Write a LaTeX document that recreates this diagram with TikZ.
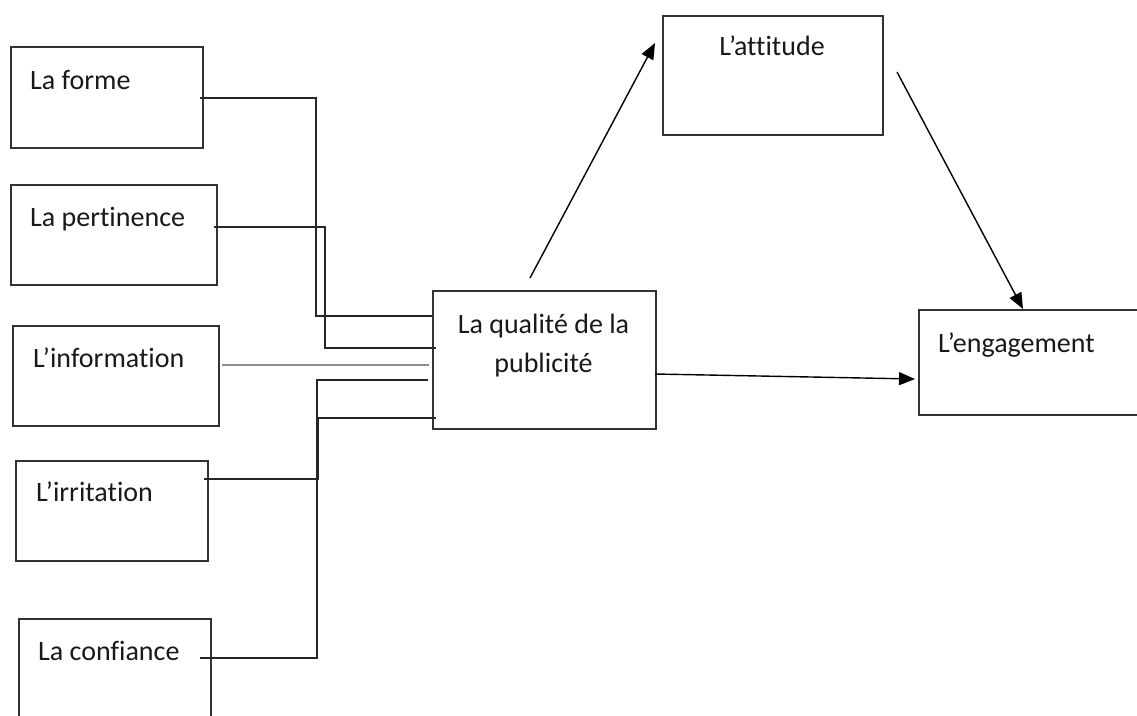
\documentclass[tikz,border=0pt]{standalone}
\usepackage{fontspec}
\setmainfont{Carlito}[Ligatures={NoCommon}]
\usetikzlibrary{arrows.meta}
\begin{document}
\begin{tikzpicture}[x=1pt,y=-1pt,
  box/.style={draw=black!80, line width=1.5pt, inner sep=0pt, anchor=north west},
  lbl/.style={inner sep=0pt, font=\fontsize{28}{39}\selectfont, text=black!90},
  wire/.style={draw=black!85, line width=1.5pt},
  grey wire/.style={draw=black!45, line width=1.7pt},
  arr/.style={draw=black, line width=1.4pt, -{Triangle[length=16pt,width=13pt]}}]
\clip (0,0) rectangle (1137,715);
\fill[white] (0,0) rectangle (1137,715);
% boxes
\node[box, minimum width=192pt, minimum height=101pt] (forme) at (10,46) {};
\node[box, minimum width=206pt, minimum height=100pt] (pert) at (10,184) {};
\node[box, minimum width=206pt, minimum height=100pt] (info) at (12,325) {};
\node[box, minimum width=192pt, minimum height=100pt] (irr) at (15,460) {};
\node[box, minimum width=192pt, minimum height=140pt] (conf) at (18,618) {};
\node[box, minimum width=223pt, minimum height=138pt] (qual) at (432,290) {};
\node[box, minimum width=220pt, minimum height=119pt] (att) at (662,15) {};
\node[box, minimum width=240pt, minimum height=105pt] (eng) at (918,309) {};
% labels
\node[lbl, anchor=base west] (tforme) at (30,89) {La forme};
\node[lbl, anchor=base west] (tpert) at (30,226) {La pertinence};
\node[lbl, anchor=base west] (tinfo) at (33,367) {L’information};
\node[lbl, anchor=base west] (tirr) at (36,501) {L’irritation};
\node[lbl, anchor=base west] (tconf) at (38,660) {La confiance};
\node[lbl, anchor=base] (tqualA) at (543.5,333) {La qualité de la};
\node[lbl, anchor=base] (tqualB) at (543.5,372) {publicité};
\node[lbl, anchor=base] (tatt) at (772,55) {L’attitude};
\node[lbl, anchor=base west] (teng) at (938,352) {L’engagement};
% connector end points
\coordinate (f0) at (200,98);   \coordinate (f1) at (432,316);
\coordinate (p0) at (214,227);  \coordinate (p1) at (436,348);
\coordinate (i0) at (222,365);  \coordinate (i1) at (429,365);
\coordinate (c0) at (200,658);  \coordinate (c1) at (428,380);
\coordinate (r0) at (204,479);  \coordinate (r1) at (436,418);
\coordinate (qa0) at (530,278); \coordinate (qa1) at (655,43);
\coordinate (ae0) at (897,72);  \coordinate (ae1) at (1023,309);
\coordinate (qe0) at (655,374); \coordinate (qe1) at (915,379);
% elbow connectors
\draw[wire] (f0) -- (316,98) -- (316,316) -- (f1);
\draw[wire] (p0) -- (325,227) -- (325,348) -- (p1);
\draw[grey wire] (i0) -- (i1);
\draw[wire] (c0) -- (317,658) -- (317,380) -- (c1);
\draw[wire] (r0) -- (318,479) -- (318,418) -- (r1);
% arrows
\draw[arr] (qa0) -- (qa1);
\draw[arr] (ae0) -- (ae1);
\draw[arr] (qe0) -- (qe1);
\end{tikzpicture}
\end{document}
